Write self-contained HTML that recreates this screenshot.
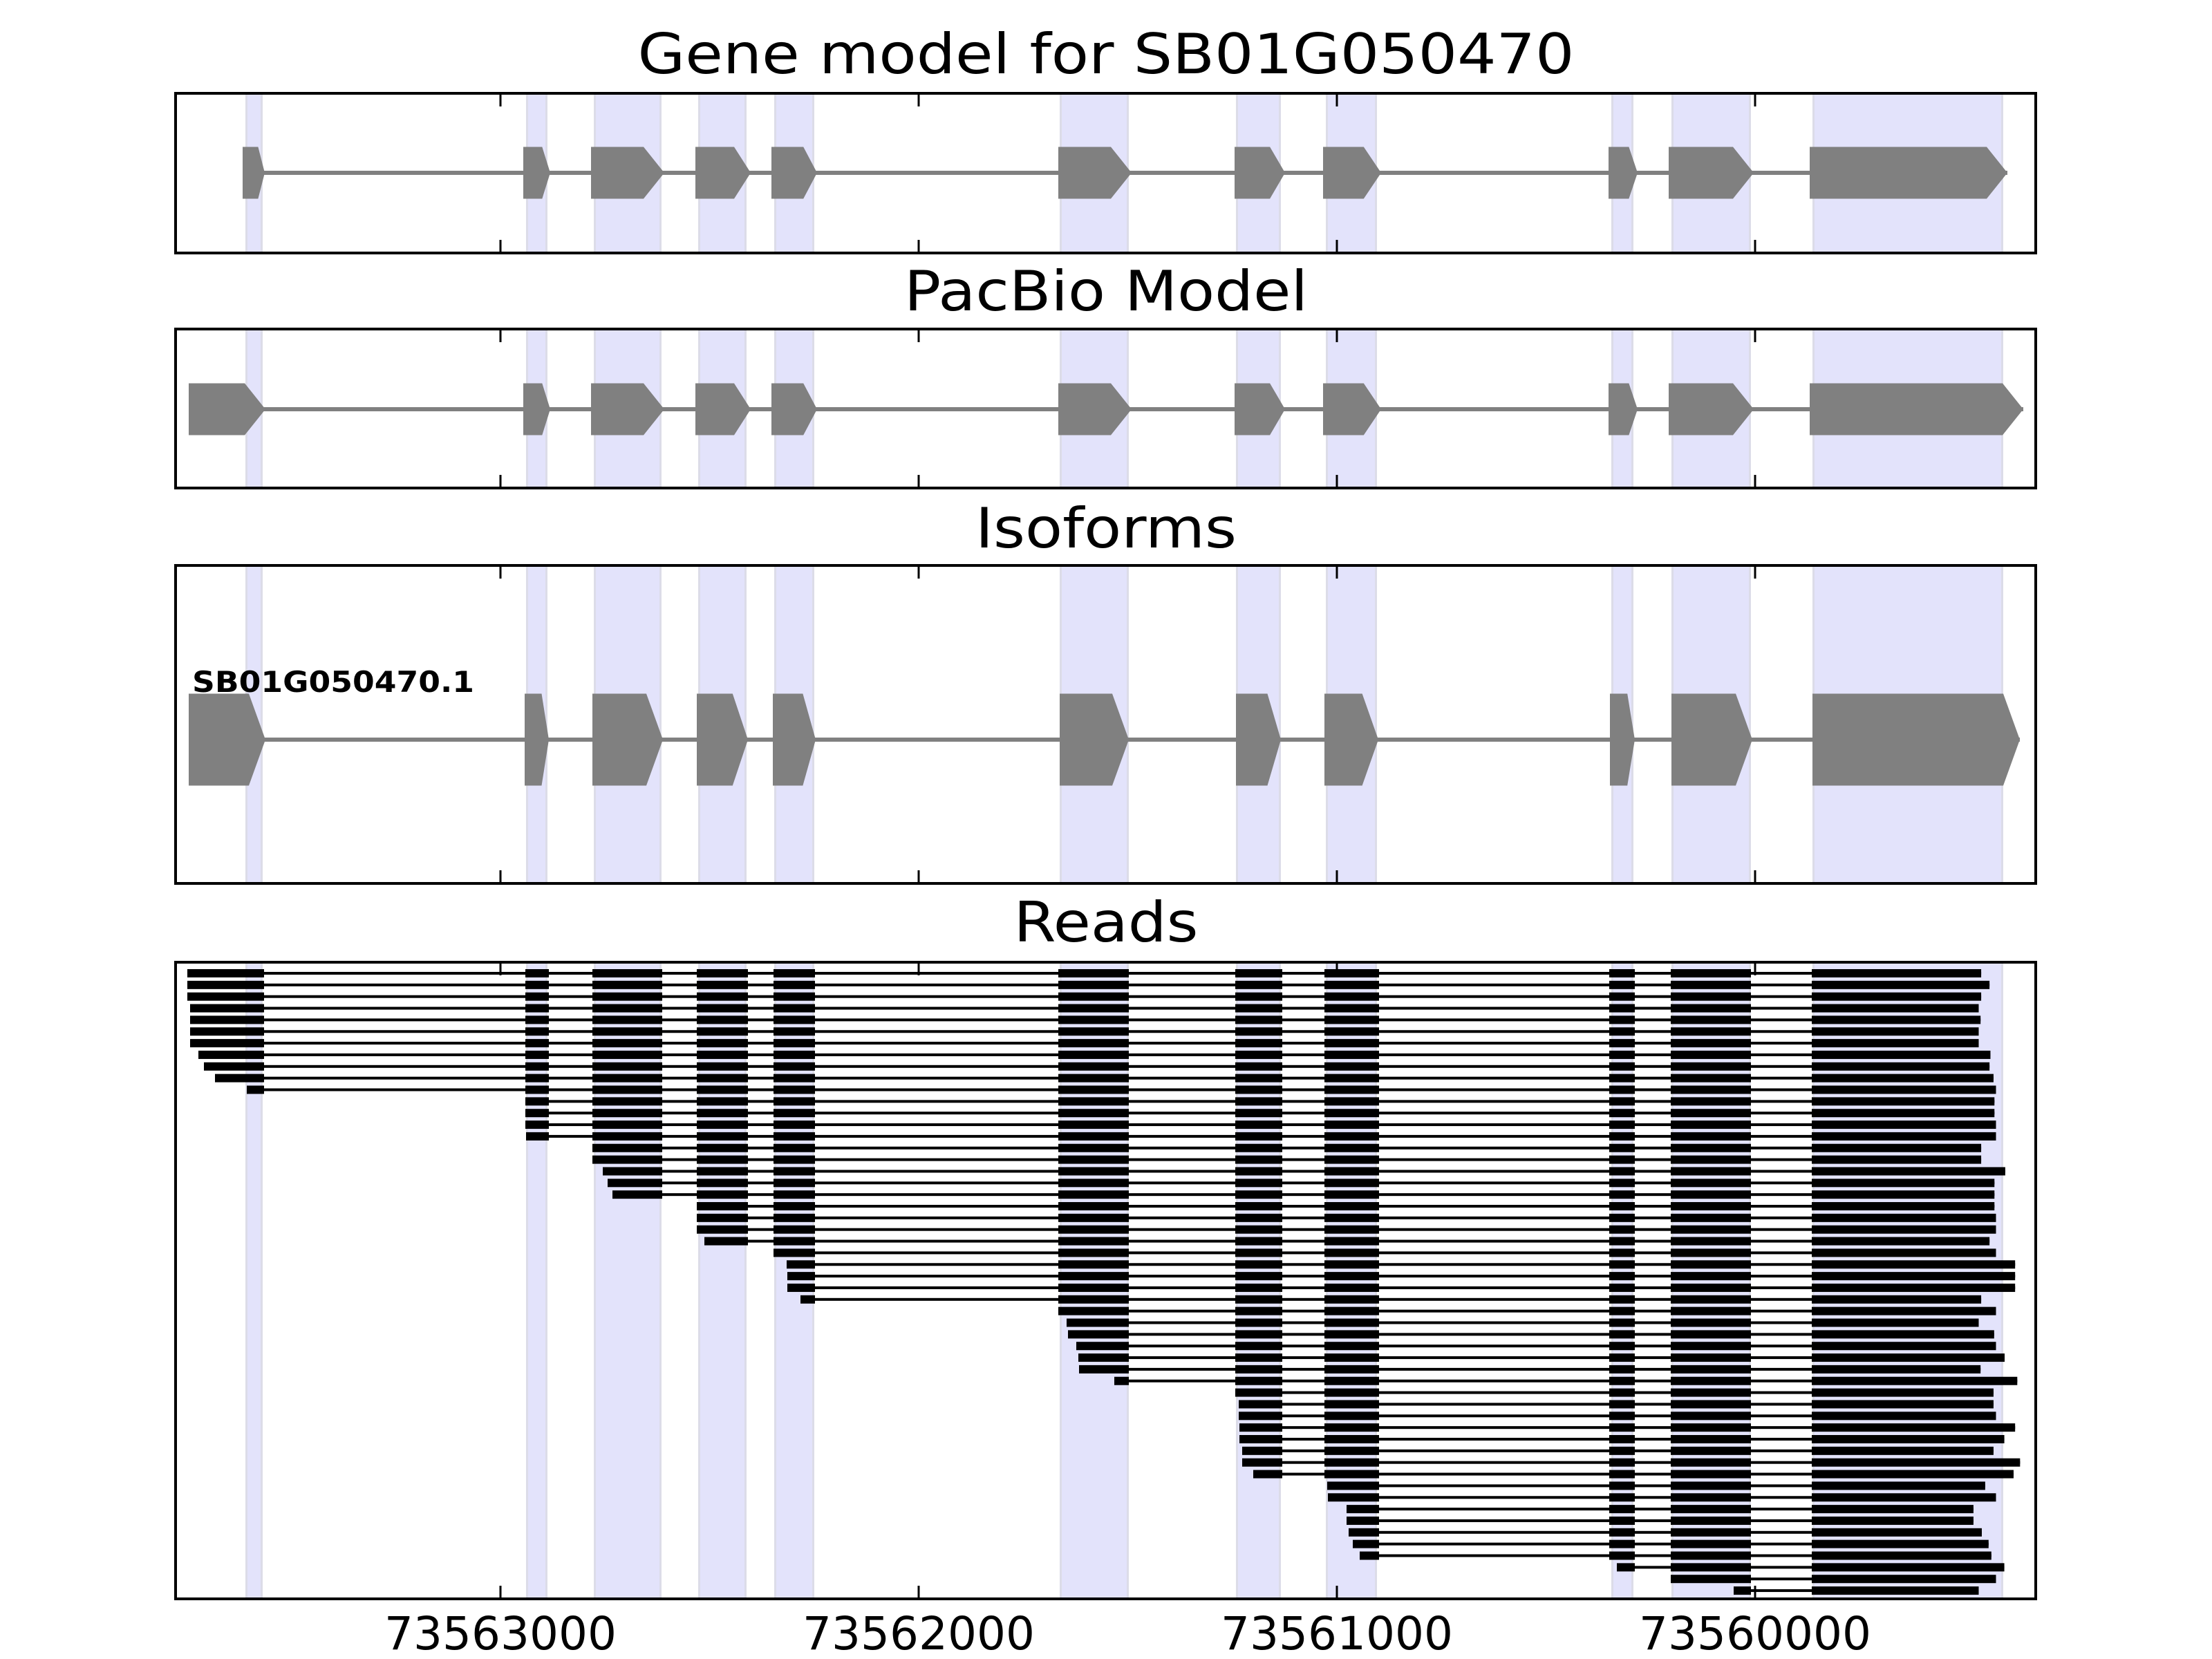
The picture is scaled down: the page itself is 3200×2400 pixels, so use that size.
<!DOCTYPE html>
<html><head><meta charset="utf-8"><style>html,body{margin:0;padding:0;background:#fff}svg{display:block}</style></head>
<body>
<svg id="s" xmlns="http://www.w3.org/2000/svg" width="3200" height="2400" viewBox="0 0 3200 2400" font-family="DejaVu Sans, Liberation Sans, sans-serif">
<rect width="3200" height="2400" fill="#fff"/>
<g id="bands"></g>
<g id="shapes"></g>
<g id="frames" fill="none" stroke="#000" stroke-width="4"></g>
<text x="1600" y="106" font-size="80" text-anchor="middle" textLength="1355" lengthAdjust="spacingAndGlyphs">Gene model for SB01G050470</text>
<text x="1600" y="449" font-size="80" text-anchor="middle" textLength="584" lengthAdjust="spacingAndGlyphs">PacBio Model</text>
<text x="1600" y="792" font-size="80" text-anchor="middle" textLength="378" lengthAdjust="spacingAndGlyphs">Isoforms</text>
<text x="1600" y="1362" font-size="80" text-anchor="middle" textLength="267" lengthAdjust="spacingAndGlyphs">Reads</text>
<text x="278" y="1001" font-size="42" font-weight="bold" textLength="408" lengthAdjust="spacingAndGlyphs">SB01G050470.1</text>
<text x="724" y="2386" font-size="66" text-anchor="middle">73563000</text>
<text x="1329" y="2386" font-size="66" text-anchor="middle">73562000</text>
<text x="1934" y="2386" font-size="66" text-anchor="middle">73561000</text>
<text x="2539" y="2386" font-size="66" text-anchor="middle">73560000</text>
</svg>
<script>
(function(){
var NS="http://www.w3.org/2000/svg";
function el(p,t,a){var e=document.createElementNS(NS,t);for(var k in a)e.setAttribute(k,a[k]);p.appendChild(e);return e;}
var bands=document.getElementById('bands'),shapes=document.getElementById('shapes'),frames=document.getElementById('frames');
var panels=[[135,366],[476,706],[818,1278],[1392,2313]];
var L=254,R=2945;
var B=[[355,380],[761,792],[859,957],[1010,1080],[1120,1178],[1533,1633],[1788,1853],[1918,1992],[2331,2363],[2418,2533],[2622,2898]];
panels.forEach(function(p){
  B.forEach(function(b){
    el(bands,'rect',{x:b[0],y:p[0],width:b[1]-b[0],height:p[1]-p[0],fill:'#e3e3fb'});
    el(bands,'rect',{x:b[0],y:p[0],width:3,height:p[1]-p[0],fill:'#dcdce8'});
    el(bands,'rect',{x:b[1]-3,y:p[0],width:3,height:p[1]-p[0],fill:'#dcdce8'});
  });
});
function model(ex,cy,h,hmax){
  el(shapes,'rect',{x:ex[0][0],y:cy-3,width:ex[ex.length-1][1]-ex[0][0],height:6,fill:'#808080'});
  ex.forEach(function(e){
    var w=e[1]-e[0],hd=Math.min(0.3*w,hmax),t=cy-h/2,b=cy+h/2;
    el(shapes,'polygon',{points:e[0]+','+t+' '+(e[1]-hd)+','+t+' '+e[1]+','+cy+' '+(e[1]-hd)+','+b+' '+e[0]+','+b,fill:'#808080'});
  });
}
var mid=[[757,796],[855,961],[1006,1086],[1116,1182],[1531,1637],[1786,1859],[1914,1998],[2327,2369],[2414,2537]];
model([[351,383]].concat(mid,[[2618,2904]]),250,75,30);
model([[273,384]].concat(mid,[[2618,2927]]),592,75,30);
model([[273,384],[759,794],[857,959],[1008,1082],[1118,1180],[1533,1633],[1788,1853],[1916,1994],[2329,2365],[2418,2535],[2622,2922]],1070,133,24);
var E=[[0,382],[760,794],[857,958],[1008,1082],[1119,1179],[1531,1633],[1787,1855],[1916,1995],[2328,2365],[2417,2533],[2621,0]];
var ends=[1380,1407,1380,1372,1378,1372,1372,1410,1407,1420,1428,1423,1423,1428,1428,1380,1380,1458,1423,1423,1423,1428,1428,1407,1428,1490,1490,1490,1380,1428,1372,1422,1428,1456,1378,1497,1420,1420,1428,1490,1455,1420,1506,1485,1393,1428,1355,1355,1382,1404,1413,1455,1428,1372].map(function(v){return 2250+v/2.24;});
var starts=[[0,271],[0,271],[0,271],[0,275],[0,275],[0,275],[0,275],[0,287],[0,295],[0,311],[0,357],
[1,760],[1,760],[1,760],[1,761],
[2,857],[2,857],[2,872],[2,879],[2,886],
[3,1008],[3,1008],[3,1008],[3,1019],
[4,1119],[4,1138],[4,1139],[4,1139],[4,1158],
[5,1531],[5,1543],[5,1545],[5,1557],[5,1560],[5,1561],[5,1612],
[6,1787],[6,1792],[6,1792],[6,1793],[6,1793],[6,1797],[6,1797],[6,1813],
[7,1920],[7,1921],[7,1948],[7,1948],[7,1951],[7,1957],[7,1967],
[8,2339],[9,2417],[9,2508]];
for(var i=0;i<54;i++){
  var cy=1408+i*16.85,s=starts[i],en=ends[i];
  el(shapes,'rect',{x:s[1],y:cy-2,width:en-s[1],height:4,fill:'#000'});
  for(var k=s[0];k<11;k++){
    var a=(k==s[0])?s[1]:E[k][0],b=(k==10)?en:E[k][1];
    el(shapes,'rect',{x:a,y:cy-6,width:b-a,height:12,fill:'#000'});
  }
}
var T=[724,1329,1934,2539];
panels.forEach(function(p){
  el(frames,'rect',{x:L,y:p[0],width:R-L,height:p[1]-p[0]});
  T.forEach(function(t){
    el(frames,'line',{x1:t,y1:p[0],x2:t,y2:p[0]+19,'stroke-width':3});
    el(frames,'line',{x1:t,y1:p[1],x2:t,y2:p[1]-19,'stroke-width':3});
  });
});
})();
</script>
</body></html>
